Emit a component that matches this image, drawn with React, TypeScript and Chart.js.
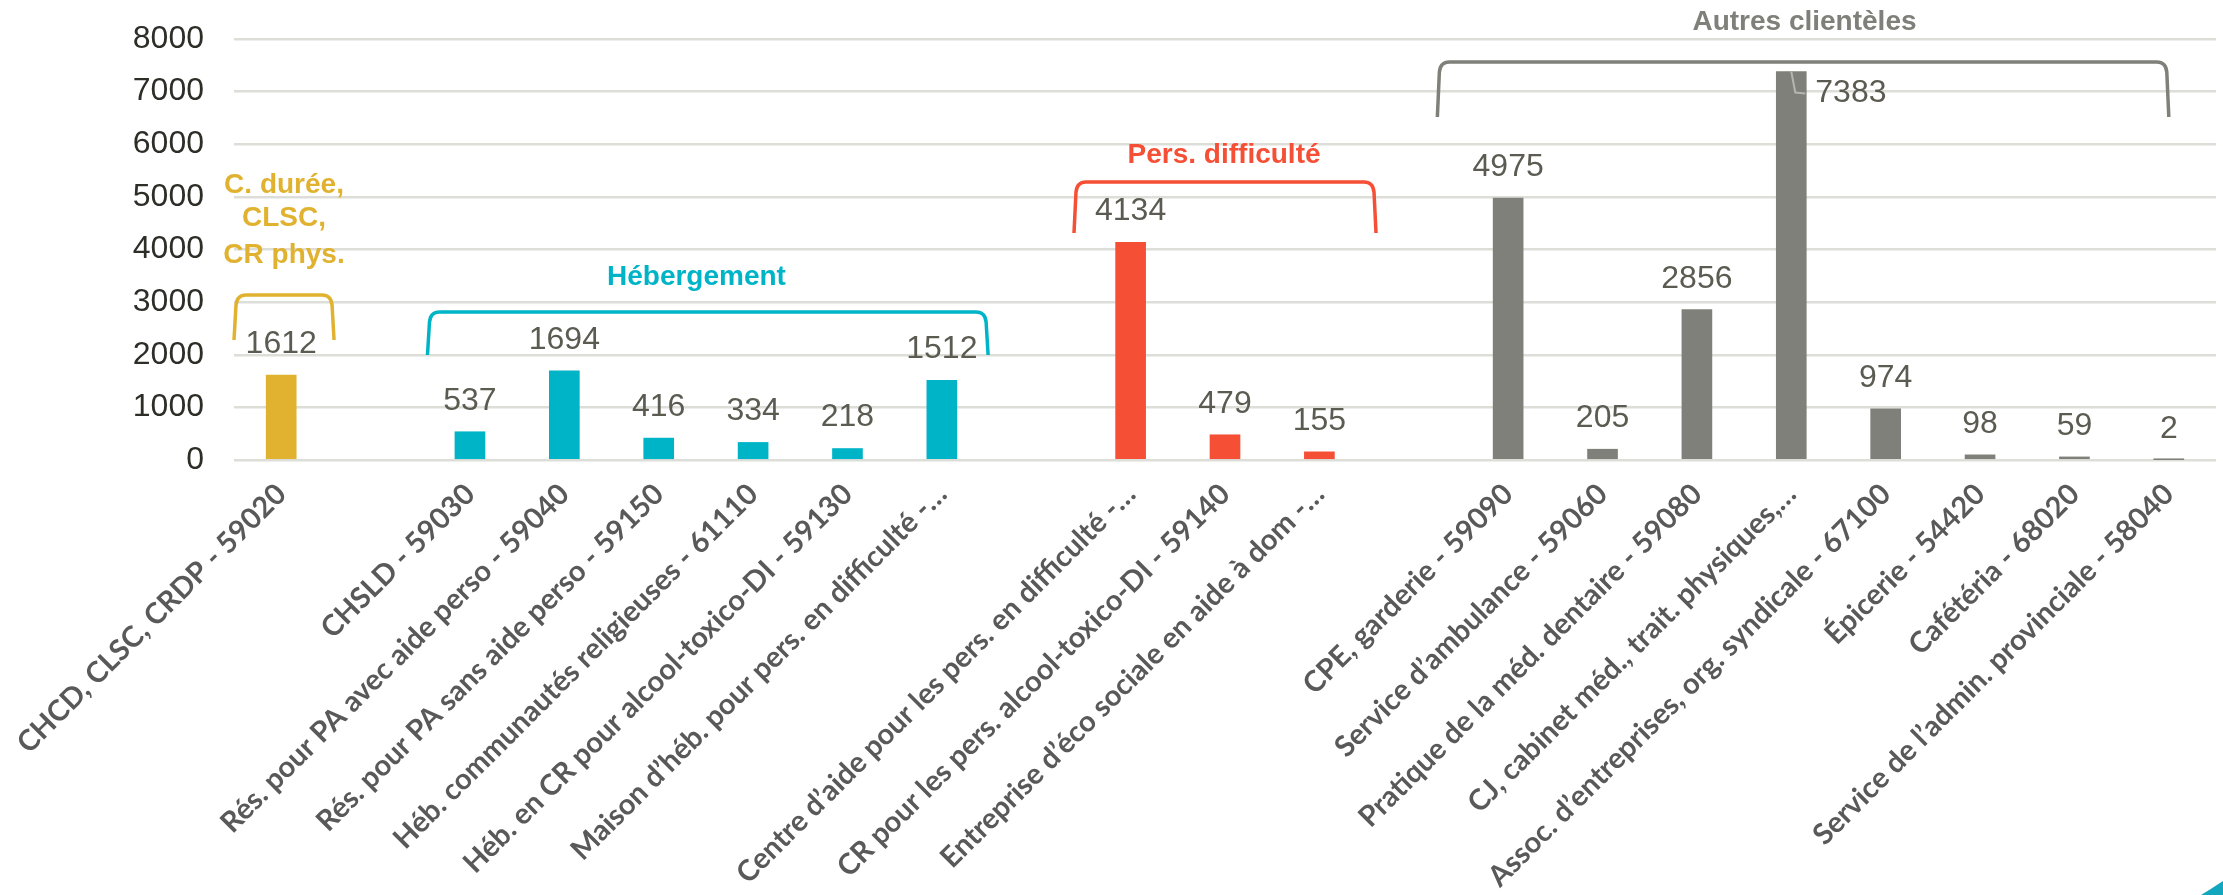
import React, { useEffect, useRef } from "react";
import { Chart, registerables } from "chart.js";

Chart.register(...registerables);

// ---------- data ----------
const categories: string[] = [
  "CHCD, CLSC, CRDP - 59020",
  "",
  "CHSLD - 59030",
  "Rés. pour PA avec aide perso - 59040",
  "Rés. pour PA sans aide perso - 59150",
  "Héb. communautés religieuses - 61110",
  "Héb. en CR pour alcool-toxico-DI - 59130",
  "Maison d’héb. pour pers. en difficulté -…",
  "",
  "Centre d’aide pour les pers. en difficulté -…",
  "CR pour les pers. alcool-toxico-DI - 59140",
  "Entreprise d’éco sociale en aide à dom -…",
  "",
  "CPE, garderie - 59090",
  "Service d’ambulance - 59060",
  "Pratique de la méd. dentaire - 59080",
  "CJ, cabinet méd., trait. physiques,…",
  "Assoc. d’entreprises, org. syndicale - 67100",
  "Épicerie - 54420",
  "Cafétéria - 68020",
  "Service de l’admin. provinciale - 58040",
];

const values: (number | null)[] = [
  1612, null, 537, 1694, 416, 334, 218, 1512, null, 4134, 479, 155, null,
  4975, 205, 2856, 7383, 974, 98, 59, 2,
];

// group of each category (index into groupNames), -1 = spacer
const groupIndex: number[] = [0, -1, 1, 1, 1, 1, 1, 1, -1, 2, 2, 2, -1, 3, 3, 3, 3, 3, 3, 3, 3];

const groupNames: string[][] = [
  ["C. durée,", "CLSC,", "CR phys."],
  ["Hébergement"],
  ["Pers. difficulté"],
  ["Autres clientèles"],
];

const groupColors: string[] = ["#E0B22F", "#00B4C8", "#F54F36", "#80807A"];

const yTickValues: number[] = [0, 1000, 2000, 3000, 4000, 5000, 6000, 7000, 8000];

// ---------- annotation layout (in axis units) ----------
const bracketLayout = [
  { from: -0.5, to: 0.56, top: 3135, bottom: 2280, titleAt: 0.03, titleY: [5225, 4598, 3895] },
  { from: 1.55, to: 7.49, top: 2812, bottom: 1995, titleAt: 4.4, titleY: [3477] },
  { from: 8.4, to: 11.6, top: 5282, bottom: 4313, titleAt: 9.99, titleY: [5795] },
  { from: 12.25, to: 20.0, top: 7562, bottom: 6517, titleAt: 16.14, titleY: [8322] },
];

const calloutIndex = 16;

const FONT = '"Liberation Sans", Arial, sans-serif';

const annotPlugin = {
  id: "annot",
  afterDatasetsDraw(chart: any) {
    const ctx = chart.ctx as CanvasRenderingContext2D;
    const xs = chart.scales.x;
    const ys = chart.scales.y;
    const meta = chart.getDatasetMeta(0);
    ctx.save();

    // data labels
    ctx.font = `32px ${FONT}`;
    ctx.fillStyle = "#5B5B52";
    ctx.textBaseline = "middle";
    meta.data.forEach((bar: any, i: number) => {
      const v = values[i];
      if (v == null) return;
      if (i === calloutIndex) {
        ctx.strokeStyle = "#B5B5B0";
        ctx.lineWidth = 2;
        ctx.beginPath();
        ctx.moveTo(bar.x, bar.y);
        ctx.lineTo(bar.x + 4, bar.y + 21);
        ctx.lineTo(bar.x + 14, bar.y + 22);
        ctx.stroke();
        ctx.textAlign = "left";
        ctx.fillText(String(v), bar.x + 24, bar.y + 22);
      } else {
        ctx.textAlign = "center";
        ctx.fillText(String(v), bar.x, bar.y - 31);
      }
    });

    // brackets and group titles
    bracketLayout.forEach((b, g) => {
      const color = groupColors[g];
      const l = xs.getPixelForValue(b.from);
      const r = xs.getPixelForValue(b.to);
      const t = ys.getPixelForValue(b.top);
      const bt = ys.getPixelForValue(b.bottom);
      ctx.strokeStyle = color;
      ctx.lineWidth = 3.5;
      ctx.lineJoin = "round";
      ctx.beginPath();
      ctx.moveTo(l, bt);
      ctx.lineTo(l + 2, t + 10);
      ctx.quadraticCurveTo(l + 3, t, l + 12, t);
      ctx.lineTo(r - 12, t);
      ctx.quadraticCurveTo(r - 3, t, r - 2, t + 10);
      ctx.lineTo(r, bt);
      ctx.stroke();

      ctx.fillStyle = color;
      ctx.font = `bold 28px ${FONT}`;
      ctx.textAlign = "center";
      ctx.textBaseline = "middle";
      const cx = xs.getPixelForValue(b.titleAt);
      groupNames[g].forEach((line, k) => {
        ctx.fillText(line, cx, ys.getPixelForValue(b.titleY[k]));
      });
    });

    // small decorative corner shape (bottom-right)
    const W = chart.width;
    const H = chart.height;
    ctx.fillStyle = "#12A7BE";
    ctx.beginPath();
    ctx.moveTo(W, H - 14);
    ctx.quadraticCurveTo(W - 12, H - 6, W - 22, H);
    ctx.lineTo(W, H);
    ctx.closePath();
    ctx.fill();

    ctx.restore();
  },
};

export default function App() {
  const canvasRef = useRef<HTMLCanvasElement | null>(null);

  useEffect(() => {
    const canvas = canvasRef.current;
    if (!canvas) return;
    const colors = groupIndex.map((g) => (g >= 0 ? groupColors[g] : "transparent"));
    const chart = new Chart(canvas, {
      type: "bar",
      data: {
        labels: categories,
        datasets: [
          {
            data: values as any,
            backgroundColor: colors,
            barThickness: 30,
          },
        ],
      },
      plugins: [annotPlugin],
      options: {
        animation: false,
        responsive: false,
        maintainAspectRatio: false,
        layout: { padding: { top: 39, right: 7, bottom: 0, left: 0 } },
        plugins: {
          legend: { display: false },
          tooltip: { enabled: false },
          title: { display: false },
        },
        scales: {
          x: {
            grid: { display: false },
            border: { display: false },
            ticks: {
              autoSkip: false,
              maxRotation: 45,
              minRotation: 45,
              padding: 9,
              color: "#595959",
              font: { family: "Lato, 'Liberation Sans', sans-serif", size: 29, weight: "bold" },
            },
            afterFit(scale: any) {
              scale.height = 435;
              scale.paddingLeft = 0;
              scale.paddingRight = 0;
            },
          },
          y: {
            min: 0,
            max: 8000,
            border: { display: false },
            grid: { color: "#DEDED9", lineWidth: 2.5, drawTicks: false },
            afterBuildTicks(scale: any) {
              scale.ticks = yTickValues.map((v) => ({ value: v }));
            },
            ticks: {
              padding: 30,
              color: "#2E2E28",
              font: { family: FONT, size: 32 },
              callback: (v: any) => String(v),
            },
            afterFit(scale: any) {
              scale.width = 234;
              scale.paddingTop = 0;
              scale.paddingBottom = 0;
            },
          },
        },
      },
    });
    return () => chart.destroy();
  }, []);

  return (
    <div style={{ position: "fixed", left: 0, top: 0, width: 2223, height: 895, background: "#fff" }}>
      <canvas ref={canvasRef} width={2223} height={895} style={{ width: 2223, height: 895 }} />
    </div>
  );
}
